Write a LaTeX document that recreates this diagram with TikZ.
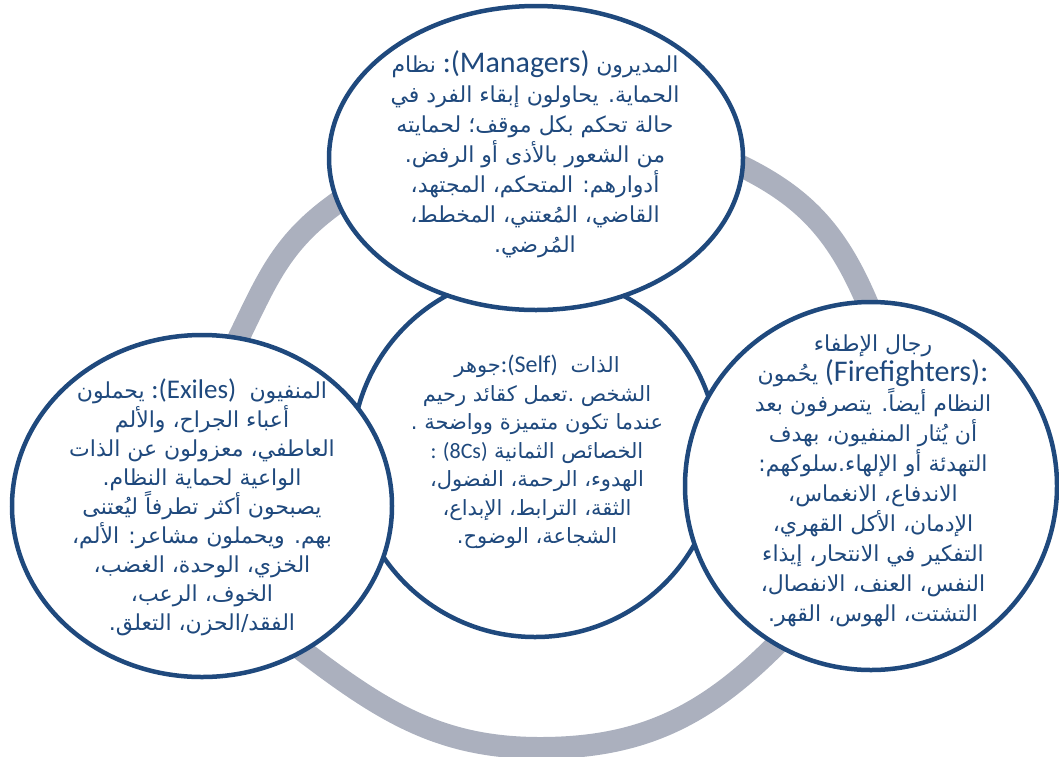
\documentclass[tikz,border=0pt]{standalone}
\usepackage{fontspec}
\usetikzlibrary{shapes.geometric}
\newfontfamily\arabicfont[Script=Arabic]{DejaVu Sans}
\newfontfamily\latinfont{Carlito}
\TeXXeTstate=1
\definecolor{navy}{HTML}{1F497D}
\definecolor{ringgray}{HTML}{ABB0BE}
\newcommand\AR[1]{{\arabicfont\beginR#1\endR}}
\newcommand\LT[2]{{\latinfont\fontsize{#1}{30}\selectfont#2}}
\begin{document}
\begin{tikzpicture}[x=1pt,y=-1pt,
  bubble/.style={ellipse, draw=navy, line width=4.5pt, fill=white, inner sep=0pt},
  bubbletext/.style={text=navy, align=center, inner sep=0pt},
  ring/.style={draw=ringgray, line width=22pt}]
\useasboundingbox (0,0) rectangle (1059,756);
\coordinate (rA) at (747,169);
\coordinate (rB) at (866,300);
\coordinate (rC) at (775,646);
\coordinate (rD) at (540,748);
\coordinate (rE) at (307,654);
\coordinate (rF) at (240,335);
\coordinate (rG) at (330,208);
\draw[ring] (rA) .. controls (808.5,200.3) and (838.5,236.7) .. (rB)
  .. controls (921.8,428.4) and (874,547) .. (rC)
  .. controls (704,717) and (640,748) .. (rD)
  .. controls (442,748) and (385,713) .. (rE)
  .. controls (205,577) and (184,450) .. (rF)
  .. controls (266.7,280.2) and (281.3,244.7) .. (rG)
  .. controls (461,109) and (601,94.5) .. (rA) -- cycle;
\node[bubble, minimum width=366pt, minimum height=364pt] (selfc) at (535,455) {};
\node[bubble, minimum width=414pt, minimum height=304pt] (managers) at (536,158) {};
\node[bubble, minimum width=380pt, minimum height=342pt] (exiles) at (202,506) {};
\node[bubble, minimum width=372pt, minimum height=368pt] (firefighters) at (871,486) {};
\node[bubbletext, font=\fontsize{22}{30}\selectfont] (managerstext) at (535,154) {%
\AR{نظام}\ \LT{30}{:(Managers)}\ \AR{المديرون}\\
\AR{الحماية. يحاولون إبقاء الفرد في}\\
\AR{حالة تحكم بكل موقف؛ لحمايته}\\
\AR{من الشعور بالأذى أو الرفض.}\\
\AR{أدوارهم: المتحكم، المجتهد،}\\
\AR{القاضي، المُعتني، المخطط،}\\
\AR{المُرضي.}};
\node[bubbletext, font=\fontsize{21}{28.5}\selectfont] (selftext) at (537,452) {%
\AR{جوهر}\LT{24}{:(Self)}\ \ \AR{الذات}\\
\AR{الشخص .تعمل كقائد رحيم}\\
\AR{عندما تكون متميزة وواضحة .}\\
\LT{22}{:}\ \LT{22}{(8Cs)}\ \AR{الخصائص الثمانية}\\
\AR{الهدوء، الرحمة، الفضول،}\\
\AR{الثقة، الترابط، الإبداع،}\\
\AR{الشجاعة، الوضوح.}};
\node[bubbletext, font=\fontsize{22}{29}\selectfont] (exilestext) at (202,507) {%
\AR{يحملون}\ \LT{27}{:(Exiles)}\ \ \AR{المنفيون}\\
\AR{أعباء الجراح، والألم}\\
\AR{العاطفي، معزولون عن الذات}\\
\AR{الواعية لحماية النظام.}\\
\AR{يصبحون أكثر تطرفاً ليُعتنى}\\
\AR{بهم. ويحملون مشاعر: الألم،}\\
\AR{الخزي، الوحدة، الغضب،}\\
\AR{الخوف، الرعب،}\\
\AR{الفقد/الحزن، التعلق.}};
\node[bubbletext, font=\fontsize{22}{30}\selectfont] (firefighterstext) at (873,481) {%
\AR{رجال الإطفاء}\\
\AR{يحُمون}\ \LT{30}{(Firefighters):}\\
\AR{النظام أيضاً. يتصرفون بعد}\\
\AR{أن يُثار المنفيون، بهدف}\\
\AR{التهدئة أو الإلهاء.سلوكهم:}\\
\AR{الاندفاع، الانغماس،}\\
\AR{الإدمان، الأكل القهري،}\\
\AR{التفكير في الانتحار، إيذاء}\\
\AR{النفس، العنف، الانفصال،}\\
\AR{التشتت، الهوس، القهر.}};
\end{tikzpicture}
\end{document}
